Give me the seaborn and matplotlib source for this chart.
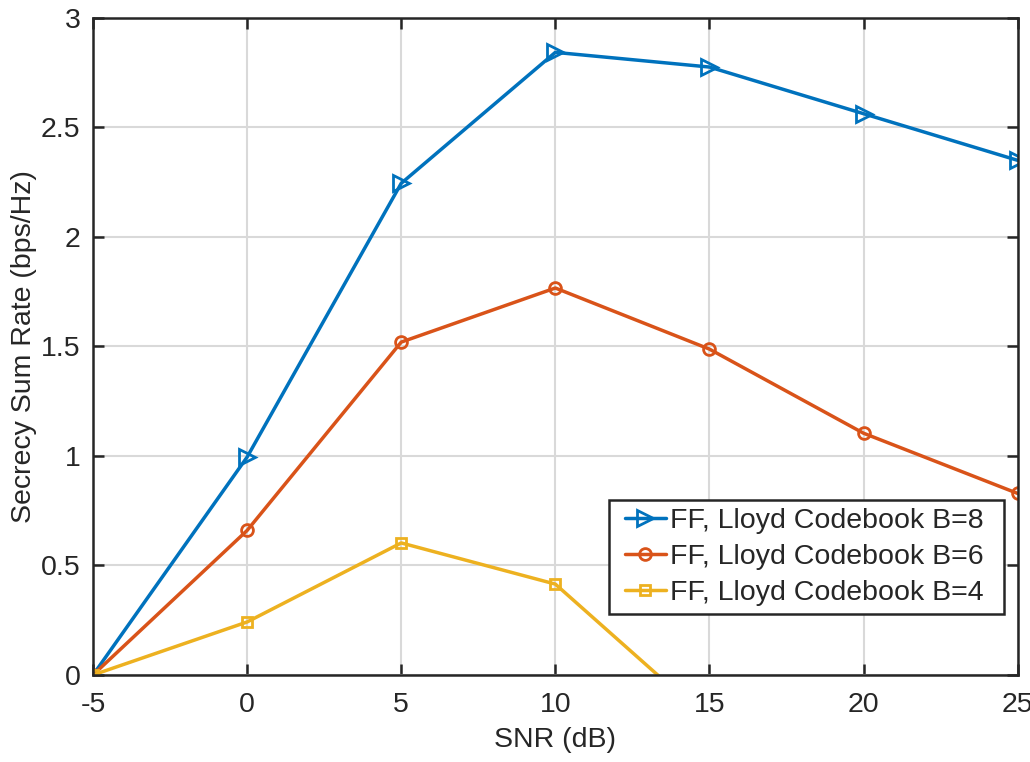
import numpy as np
import pandas as pd
import matplotlib
matplotlib.use("Agg")
import matplotlib.pyplot as plt
from matplotlib.lines import Line2D
from matplotlib.legend_handler import HandlerLine2D
import seaborn as sns

# SNR sweep (dB)
snr_db = [-5, 0, 5, 10, 15, 20, 25]

# Secrecy sum rate (bps/Hz) per codebook size
rate_b8 = [0.0, 0.995, 2.245, 2.843, 2.776, 2.563, 2.350]
rate_b6 = [0.0, 0.660, 1.520, 1.767, 1.488, 1.104, 0.829]
rate_b4 = [0.0, 0.242, 0.603, 0.415, -0.21]
snr_b4 = [-5, 0, 5, 10, 15]

labels = ["FF, Lloyd Codebook B=8", "FF, Lloyd Codebook B=6", "FF, Lloyd Codebook B=4"]
colors = ["#0072BD", "#D95319", "#EDB120"]

FS = 20.5

sns.set_theme(style="white")
plt.rcParams["font.family"] = ["Liberation Sans", "DejaVu Sans"]
plt.rcParams["axes.unicode_minus"] = False

fig = plt.figure(figsize=(10.3, 7.62), dpi=100)
ax = fig.add_axes([0.0903, 0.1142, 0.8977, 0.8622])

series = [
    (snr_db, rate_b8, ">", 11),
    (snr_db, rate_b6, "o", 8.5),
    (snr_b4, rate_b4, "s", 6.5),
]
for (x, y, mk, ms), lab, col in zip(series, labels, colors):
    df = pd.DataFrame({"snr": x, "rate": y})
    sns.lineplot(data=df, x="snr", y="rate", ax=ax, color=col, linewidth=2.5,
                 marker=mk, markersize=ms, markerfacecolor="none",
                 markeredgecolor=col, markeredgewidth=2.0, label=lab,
                 clip_on=True)

ax.set_xlim(-5, 25)
ax.set_ylim(0, 3)
ax.set_xticks([-5, 0, 5, 10, 15, 20, 25])
ax.set_yticks([0, 0.5, 1, 1.5, 2, 2.5, 3])
ax.set_yticklabels(["0", "0.5", "1", "1.5", "2", "2.5", "3"])
ax.grid(True, color="#d9d9d9", linewidth=1.5)
ax.set_axisbelow(True)

for s in ax.spines.values():
    s.set_visible(True)
    s.set_color("#262626")
    s.set_linewidth(1.8)

ax.tick_params(axis="both", direction="in", length=8, width=1.8, color="#262626",
               labelsize=FS, labelcolor="#262626", top=True, right=True,
               bottom=True, left=True)
ax.tick_params(axis="x", pad=12)
ax.tick_params(axis="y", pad=9)

ax.set_xlabel("SNR (dB)", fontsize=FS, color="#262626", labelpad=7)
ax.set_ylabel("Secrecy Sum Rate (bps/Hz)", fontsize=FS, color="#262626", labelpad=3)

handles, labs = ax.get_legend_handles_labels()
leg = ax.legend(handles, labs, loc="lower left",
                bbox_to_anchor=(0.5578, 0.0928, 0.427, 0.1735), mode="expand",
                fontsize=FS, frameon=True, fancybox=False, edgecolor="#262626",
                handlelength=1.72, handletextpad=0.15, borderpad=0.28,
                labelspacing=0.36, borderaxespad=0,
                handler_map={Line2D: HandlerLine2D(xpad=0.3)})
leg.get_frame().set_linewidth(1.8)
leg.get_frame().set_alpha(1)

fig.savefig("out.png", dpi=100, facecolor="white")
